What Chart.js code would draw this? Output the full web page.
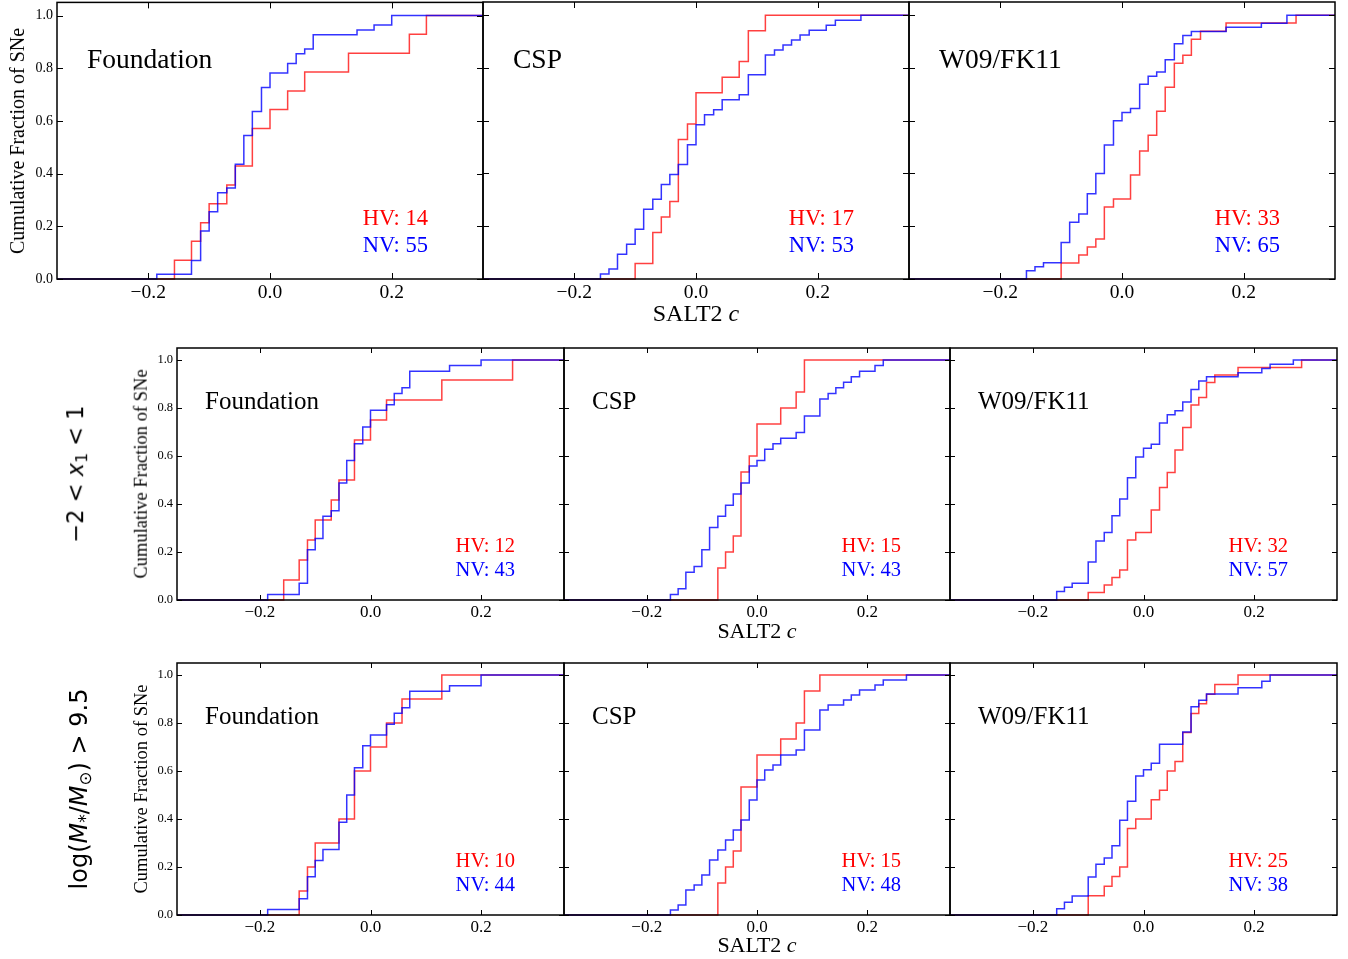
<!DOCTYPE html>
<html>
<head>
<meta charset="utf-8">
<script src="https://cdn.jsdelivr.net/npm/chart.js@4.4.1/dist/chart.umd.min.js"></script>
<style>
  body { margin: 0; background: #fff; width: 1348px; height: 959px; position: relative; overflow: hidden; font-family: "Liberation Serif", serif; }
  canvas { position: absolute; }
  .txt { position: absolute; white-space: nowrap; line-height: 1; }
  .rot { transform: translate(-50%, -50%) rotate(-90deg); }
  .math { font-family: "DejaVu Sans", sans-serif; }
  .math sub { font-size: 70%; vertical-align: -0.25em; }
</style>
</head>
<body>
<script>
// ---- data ----
const xTicks = [-0.2, 0.0, 0.2];
const yTicks = [0.0, 0.2, 0.4, 0.6, 0.8, 1.0];
const samples = ['Foundation', 'CSP', 'W09/FK11'];
const hvCounts = [[14, 17, 33], [12, 15, 32], [10, 15, 25]];
const nvCounts = [[55, 53, 65], [43, 43, 57], [44, 48, 38]];
const cutLabels = ['', '\u22122 &lt; <i>x</i><sub>1</sub> &lt; 1', 'log(<i>M</i><sub>*</sub>/<i>M</i><sub>\u2299</sub>) &gt; 9.5'];

// full sample
const allFoundHVc = [-0.157, -0.129, -0.114, -0.100, -0.071, -0.057, -0.029, 0.000, 0.029, 0.057, 0.129, 0.229, 0.257];
const allFoundHVf = [0.071, 0.143, 0.214, 0.286, 0.357, 0.429, 0.571, 0.643, 0.714, 0.786, 0.857, 0.929, 1.0];
const allFoundNVc = [-0.186, -0.129, -0.114, -0.100, -0.086, -0.071, -0.057, -0.043, -0.029, -0.014, 0.000, 0.029, 0.043, 0.057, 0.071, 0.143, 0.171, 0.200];
const allFoundNVf = [0.018, 0.07, 0.182, 0.255, 0.327, 0.345, 0.436, 0.545, 0.636, 0.727, 0.782, 0.818, 0.855, 0.873, 0.927, 0.945, 0.964, 1.0];
const allCspHVc = [-0.100, -0.071, -0.057, -0.043, -0.029, -0.014, 0.000, 0.043, 0.071, 0.086, 0.114];
const allCspHVf = [0.059, 0.176, 0.235, 0.294, 0.529, 0.588, 0.706, 0.765, 0.824, 0.941, 1.0];
const allCspNVc = [-0.157, -0.143, -0.129, -0.114, -0.100, -0.086, -0.071, -0.057, -0.043, -0.029, -0.014, 0.000, 0.014, 0.029, 0.043, 0.071, 0.086, 0.114, 0.129, 0.143, 0.157, 0.171, 0.186, 0.214, 0.229, 0.271];
const allCspNVf = [0.019, 0.038, 0.094, 0.132, 0.189, 0.264, 0.302, 0.358, 0.396, 0.434, 0.509, 0.585, 0.623, 0.642, 0.679, 0.698, 0.774, 0.849, 0.868, 0.887, 0.906, 0.925, 0.943, 0.962, 0.981, 1.0];
const allW09HVc = [-0.100, -0.071, -0.057, -0.043, -0.029, -0.014, 0.014, 0.029, 0.043, 0.057, 0.071, 0.086, 0.100, 0.114, 0.129, 0.171, 0.286];
const allW09HVf = [0.061, 0.091, 0.121, 0.152, 0.273, 0.303, 0.394, 0.485, 0.545, 0.636, 0.727, 0.818, 0.848, 0.909, 0.939, 0.970, 1.0];
const allW09NVc = [-0.157, -0.143, -0.129, -0.100, -0.086, -0.071, -0.057, -0.043, -0.029, -0.014, 0.000, 0.014, 0.029, 0.043, 0.057, 0.071, 0.086, 0.100, 0.114, 0.171, 0.229, 0.271];
const allW09NVf = [0.031, 0.046, 0.062, 0.138, 0.215, 0.246, 0.323, 0.400, 0.508, 0.600, 0.631, 0.646, 0.738, 0.769, 0.785, 0.831, 0.892, 0.923, 0.938, 0.954, 0.969, 1.0];

// -2 < x1 < 1
const x1FoundHVc = [-0.157, -0.129, -0.114, -0.100, -0.071, -0.057, -0.029, 0.000, 0.029, 0.129, 0.257];
const x1FoundHVf = [0.083, 0.167, 0.25, 0.333, 0.417, 0.5, 0.667, 0.75, 0.833, 0.917, 1.0];
const x1FoundNVc = [-0.186, -0.129, -0.114, -0.100, -0.086, -0.071, -0.057, -0.043, -0.029, -0.014, 0.000, 0.029, 0.043, 0.057, 0.071, 0.143, 0.200];
const x1FoundNVf = [0.023, 0.070, 0.209, 0.256, 0.349, 0.372, 0.488, 0.581, 0.651, 0.721, 0.791, 0.814, 0.860, 0.884, 0.953, 0.977, 1.0];
const x1CspHVc = [-0.071, -0.057, -0.043, -0.029, -0.014, 0.000, 0.043, 0.071, 0.086];
const x1CspHVf = [0.133, 0.200, 0.267, 0.533, 0.600, 0.733, 0.800, 0.867, 1.0];
const x1CspNVc = [-0.157, -0.143, -0.129, -0.114, -0.100, -0.086, -0.071, -0.057, -0.043, -0.029, -0.014, 0.000, 0.014, 0.029, 0.043, 0.071, 0.086, 0.114, 0.129, 0.143, 0.157, 0.171, 0.186, 0.214, 0.229];
const x1CspNVf = [0.023, 0.047, 0.116, 0.140, 0.209, 0.302, 0.349, 0.395, 0.442, 0.488, 0.558, 0.581, 0.628, 0.651, 0.674, 0.698, 0.767, 0.837, 0.860, 0.884, 0.907, 0.930, 0.953, 0.977, 1.0];
const x1W09HVc = [-0.100, -0.071, -0.057, -0.043, -0.029, -0.014, 0.014, 0.029, 0.043, 0.057, 0.071, 0.086, 0.100, 0.114, 0.129, 0.171, 0.286];
const x1W09HVf = [0.031, 0.063, 0.094, 0.125, 0.250, 0.281, 0.375, 0.469, 0.531, 0.625, 0.719, 0.813, 0.844, 0.906, 0.938, 0.969, 1.0];
const x1W09NVc = [-0.157, -0.143, -0.129, -0.100, -0.086, -0.071, -0.057, -0.043, -0.029, -0.014, 0.000, 0.014, 0.029, 0.043, 0.057, 0.071, 0.086, 0.100, 0.114, 0.171, 0.214, 0.229, 0.271];
const x1W09NVf = [0.035, 0.053, 0.070, 0.158, 0.246, 0.281, 0.351, 0.421, 0.509, 0.596, 0.632, 0.649, 0.737, 0.772, 0.789, 0.825, 0.877, 0.912, 0.930, 0.947, 0.965, 0.982, 1.0];

// log(M*/Msun) > 9.5
const mFoundHVc = [-0.129, -0.114, -0.100, -0.057, -0.029, 0.000, 0.029, 0.057, 0.129];
const mFoundHVf = [0.1, 0.2, 0.3, 0.4, 0.6, 0.7, 0.8, 0.9, 1.0];
const mFoundNVc = [-0.186, -0.129, -0.114, -0.100, -0.086, -0.057, -0.043, -0.029, -0.014, 0.000, 0.029, 0.043, 0.057, 0.071, 0.143, 0.200];
const mFoundNVf = [0.023, 0.068, 0.159, 0.227, 0.273, 0.386, 0.500, 0.614, 0.705, 0.750, 0.795, 0.841, 0.864, 0.932, 0.955, 1.0];
const mCspHVc = [-0.071, -0.057, -0.043, -0.029, 0.000, 0.043, 0.071, 0.086, 0.114];
const mCspHVf = [0.133, 0.200, 0.267, 0.533, 0.667, 0.733, 0.800, 0.933, 1.0];
const mCspNVc = [-0.157, -0.143, -0.129, -0.114, -0.100, -0.086, -0.071, -0.057, -0.043, -0.029, -0.014, 0.000, 0.014, 0.029, 0.043, 0.071, 0.086, 0.114, 0.129, 0.157, 0.171, 0.186, 0.214, 0.229, 0.271];
const mCspNVf = [0.021, 0.042, 0.104, 0.125, 0.167, 0.229, 0.271, 0.313, 0.354, 0.396, 0.479, 0.563, 0.604, 0.625, 0.667, 0.688, 0.771, 0.854, 0.875, 0.896, 0.917, 0.938, 0.958, 0.979, 1.0];
const mW09HVc = [-0.100, -0.071, -0.057, -0.043, -0.029, -0.014, 0.014, 0.029, 0.043, 0.057, 0.071, 0.086, 0.100, 0.114, 0.129, 0.171];
const mW09HVf = [0.08, 0.12, 0.16, 0.20, 0.36, 0.40, 0.48, 0.52, 0.60, 0.64, 0.76, 0.84, 0.88, 0.92, 0.96, 1.0];
const mW09NVc = [-0.157, -0.143, -0.129, -0.100, -0.086, -0.071, -0.057, -0.043, -0.029, -0.014, 0.000, 0.014, 0.029, 0.071, 0.086, 0.100, 0.114, 0.171, 0.214, 0.229];
const mW09NVf = [0.026, 0.053, 0.079, 0.158, 0.211, 0.237, 0.289, 0.395, 0.474, 0.579, 0.605, 0.632, 0.711, 0.763, 0.868, 0.895, 0.921, 0.947, 0.974, 1.0];

const curves = [
  [[allFoundHVc, allFoundHVf, allFoundNVc, allFoundNVf], [allCspHVc, allCspHVf, allCspNVc, allCspNVf], [allW09HVc, allW09HVf, allW09NVc, allW09NVf]],
  [[x1FoundHVc, x1FoundHVf, x1FoundNVc, x1FoundNVf], [x1CspHVc, x1CspHVf, x1CspNVc, x1CspNVf], [x1W09HVc, x1W09HVf, x1W09NVc, x1W09NVf]],
  [[mFoundHVc, mFoundHVf, mFoundNVc, mFoundNVf], [mCspHVc, mCspHVf, mCspNVc, mCspNVf], [mW09HVc, mW09HVf, mW09NVc, mW09NVf]]
];

const xMin = -0.35, xMax = 0.35, yMin = 0, yMax = 1.05;

// ---- layout ----
const rows = [
  { top: 2, bottom: 279, edges: [57, 483, 909, 1335], tick: 6, xFont: 19.5, yFont: 14, nameFont: 27.5, countFont: 22.5,
    nameDx: 30, nameDy: 57, countDx: 55, hvDy: 61, nvDy: 34, xTitleY: 313, xTitleFont: 24, yTitleX: 17, yTitleFont: 20 },
  { top: 348, bottom: 600, edges: [177, 564, 950, 1337], tick: 5, xFont: 17, yFont: 12.5, nameFont: 25, countFont: 20.5,
    nameDx: 28, nameDy: 52, countDx: 49, hvDy: 55, nvDy: 31, xTitleY: 631, xTitleFont: 22, yTitleX: 141, yTitleFont: 18.5, cutX: 77, cutFont: 22.5 },
  { top: 663, bottom: 915, edges: [177, 564, 950, 1337], tick: 5, xFont: 17, yFont: 12.5, nameFont: 25, countFont: 20.5,
    nameDx: 28, nameDy: 52, countDx: 49, hvDy: 55, nvDy: 31, xTitleY: 945, xTitleFont: 22, yTitleX: 141, yTitleFont: 18.5, cutX: 80, cutFont: 24 }
];

Chart.defaults.font.family = "'Liberation Serif', serif";
Chart.defaults.color = '#000';

const fmt = v => (v < 0 ? '\u2212' : '') + Math.abs(v).toFixed(1);

// cumulative step: level holds until the next c value, then jumps up
function steps(cs, fs) {
  const pts = [{ x: xMin, y: 0 }];
  cs.forEach((c, i) => pts.push({ x: c, y: fs[i] }));
  pts.push({ x: xMax, y: fs[fs.length - 1] });
  return pts;
}

// box with inward ticks on all four sides
const framePlugin = {
  id: 'frame',
  afterDraw(chart) {
    const { ctx, chartArea: a, scales: { x, y } } = chart;
    const len = chart.options.plugins.frame.tick;
    ctx.save();
    ctx.strokeStyle = '#000';
    ctx.lineWidth = 1;
    ctx.beginPath();
    xTicks.forEach(v => {
      const px = Math.round(x.getPixelForValue(v)) + 0.5;
      ctx.moveTo(px, a.bottom); ctx.lineTo(px, a.bottom - len);
      ctx.moveTo(px, a.top); ctx.lineTo(px, a.top + len);
    });
    yTicks.forEach(v => {
      const py = Math.round(y.getPixelForValue(v)) + 0.5;
      ctx.moveTo(a.left, py); ctx.lineTo(a.left + len, py);
      ctx.moveTo(a.right, py); ctx.lineTo(a.right - len, py);
    });
    ctx.stroke();
    ctx.lineWidth = 1.5;
    ctx.strokeRect(a.left, a.top, a.right - a.left, a.bottom - a.top);
    ctx.restore();
  }
};

function addText(html, style, cls) {
  const d = document.createElement('div');
  d.className = 'txt' + (cls ? ' ' + cls : '');
  d.innerHTML = html;
  Object.assign(d.style, style);
  document.body.appendChild(d);
}

const pad = 12;
rows.forEach((row, r) => {
  const plotH = row.bottom - row.top;
  const padB = 40;
  for (let p = 0; p < 3; p++) {
    const left = row.edges[p], right = row.edges[p + 1];
    const padL = p === 0 ? left : pad;
    const cv = document.createElement('canvas');
    const w = padL + (right - left) + pad, h = pad + plotH + padB;
    cv.width = w; cv.height = h;
    cv.style.left = (left - padL) + 'px';
    cv.style.top = (row.top - pad) + 'px';
    document.body.appendChild(cv);
    const [hvC, hvF, nvC, nvF] = curves[r][p];
    new Chart(cv, {
      type: 'line',
      data: {
        datasets: [
          { data: steps(nvC, nvF), borderColor: 'rgba(0,0,255,0.8)', borderWidth: 1.5, stepped: 'before', pointRadius: 0, fill: false, clip: false },
          { data: steps(hvC, hvF), borderColor: 'rgba(255,0,0,0.75)', borderWidth: 1.5, stepped: 'before', pointRadius: 0, fill: false, clip: false }
        ]
      },
      options: {
        responsive: false, animation: false, devicePixelRatio: 1, events: [],
        layout: { padding: { top: pad, right: pad, left: 0, bottom: 0 } },
        plugins: { legend: { display: false }, tooltip: { enabled: false }, frame: { tick: row.tick } },
        scales: {
          x: {
            type: 'linear', min: xMin, max: xMax,
            grid: { display: false, drawTicks: false }, border: { display: false },
            afterBuildTicks: s => { s.ticks = xTicks.map(v => ({ value: v })); },
            afterFit: s => { s.height = padB; },
            ticks: { font: { size: row.xFont }, padding: 2, maxRotation: 0, callback: fmt }
          },
          y: {
            type: 'linear', min: yMin, max: yMax,
            grid: { display: false, drawTicks: false }, border: { display: false },
            afterBuildTicks: s => { s.ticks = yTicks.map(v => ({ value: v })); },
            afterFit: s => { s.width = padL; },
            ticks: { display: p === 0, font: { size: row.yFont }, padding: 4, callback: fmt }
          }
        }
      },
      plugins: [framePlugin]
    });

    // panel annotations
    addText(samples[p], { left: (left + row.nameDx) + 'px', top: (row.top + row.nameDy) + 'px', fontSize: row.nameFont + 'px', transform: 'translateY(-50%)' });
    addText('HV: ' + hvCounts[r][p], { left: (right - row.countDx) + 'px', top: (row.bottom - row.hvDy) + 'px', fontSize: row.countFont + 'px', color: '#ff0000', transform: 'translate(-100%, -50%)' });
    addText('NV: ' + nvCounts[r][p], { left: (right - row.countDx) + 'px', top: (row.bottom - row.nvDy) + 'px', fontSize: row.countFont + 'px', color: '#0000ff', transform: 'translate(-100%, -50%)' });
  }
  const midY = (row.top + row.bottom) / 2;
  addText('SALT2 <i>c</i>', { left: ((row.edges[1] + row.edges[2]) / 2) + 'px', top: row.xTitleY + 'px', fontSize: row.xTitleFont + 'px', transform: 'translate(-50%, -50%)' });
  addText('Cumulative Fraction of SNe', { left: row.yTitleX + 'px', top: midY + 'px', fontSize: row.yTitleFont + 'px' }, 'rot');
  if (cutLabels[r]) {
    addText(cutLabels[r], { left: row.cutX + 'px', top: midY + 'px', fontSize: row.cutFont + 'px' }, 'rot math');
  }
});
</script>
</body>
</html>
